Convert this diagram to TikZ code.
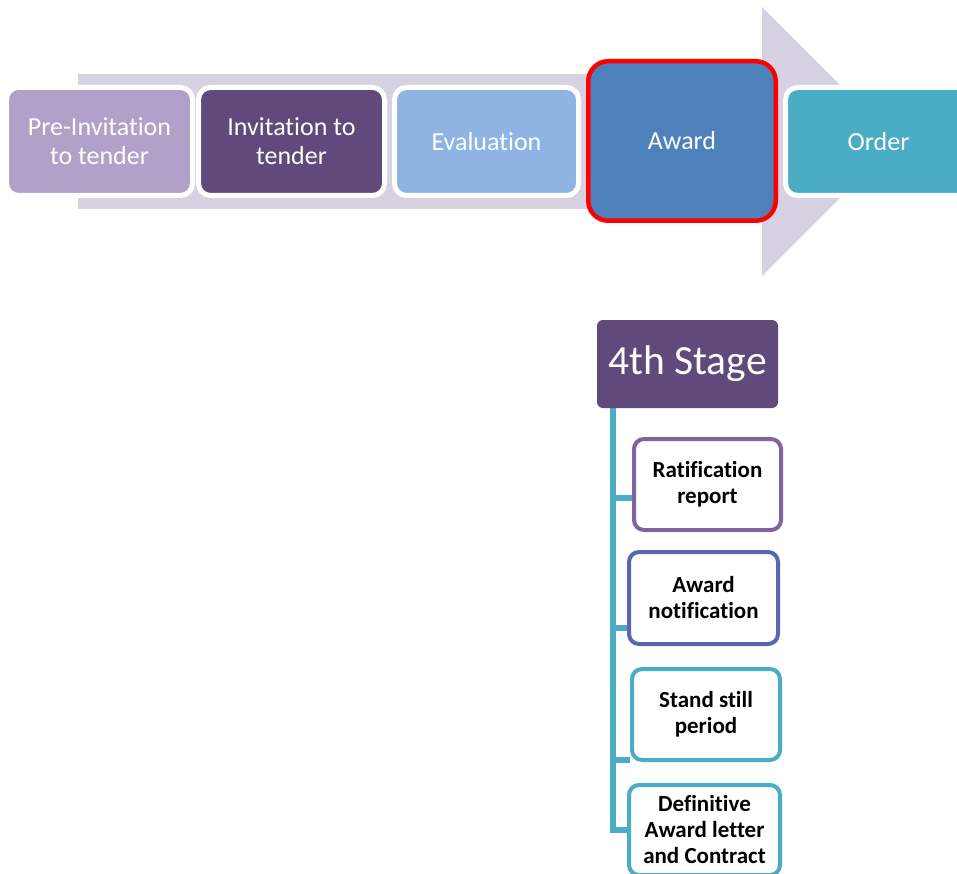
\documentclass[tikz,border=0pt]{standalone}
\usepackage{fontspec}
\setmainfont[Ligatures={NoCommon,NoContextual}]{Carlito}
\usetikzlibrary{backgrounds}
\definecolor{arrowbg}{HTML}{D6D2E1}
\definecolor{lilac}{HTML}{B1A0C7}
\definecolor{plum}{HTML}{604A7B}
\definecolor{skyblue}{HTML}{8EB4E3}
\definecolor{steel}{HTML}{4F81BD}
\definecolor{teal}{HTML}{4BACC6}
\definecolor{violet}{HTML}{8064A2}
\definecolor{indigo}{HTML}{5867B3}
\definecolor{hilite}{HTML}{FF0000}
\begin{document}
\begin{tikzpicture}[x=1pt,y=-1pt,
  phase/.style={rectangle, rounded corners=12pt, draw=white, line width=5pt,
    text=white, font=\fontsize{26}{29}\selectfont, align=center,
    minimum height=108pt, inner sep=0pt},
  stagebox/.style={rectangle, rounded corners=6pt, fill=plum, text=white,
    font=\fontsize{41.5}{44}\selectfont, minimum width=181pt, minimum height=88pt, inner sep=0pt},
  taskbox/.style={rectangle, rounded corners=10pt, fill=white, line width=4pt,
    font=\bfseries\fontsize{23}{26}\selectfont, align=center, inner sep=0pt},
  conn/.style={draw=teal, line width=5.5pt}
]
\useasboundingbox (0,0) rectangle (957,874);

% wide process arrow behind the phases
\fill[arrowbg] (78,74) -- (762,74) -- (762,7) -- (896.5,141.5) -- (762,276)
  -- (762,209) -- (78,209) -- cycle;

% phases
\node[phase, fill=lilac, minimum width=186pt] (pre) at (99.5,141.5) {Pre-Invitation\\to tender};
\node[phase, fill=plum, minimum width=186pt] (itt) at (291.5,141.5) {Invitation to\\tender};
\node[phase, fill=skyblue, minimum width=184pt] (eval) at (486.5,141.5) {Evaluation};
\node[phase, fill=steel, draw=hilite, line width=4.5pt, rounded corners=20pt,
  minimum width=187.5pt, minimum height=159.5pt] (award) at (682,141) {Award};
\node[phase, fill=teal, minimum width=186pt] (order) at (878.5,141.5) {Order};

% stage hierarchy
\node[stagebox] (stage) at (687.5,364) {4th Stage};
\node[taskbox, draw=violet, minimum width=147pt, minimum height=91pt] (t1) at (707.5,484.5) {Ratification\\report};
\node[taskbox, draw=indigo, minimum width=149pt, minimum height=92pt] (t2) at (703.5,598) {Award\\notification};
\node[taskbox, draw=teal, minimum width=148pt, minimum height=91pt] (t3) at (706,714.5) {Stand still\\period};
\node[taskbox, draw=teal, minimum width=151pt, minimum height=90pt] (t4) at (704.5,830) {Definitive\\Award letter\\and Contract};

\begin{scope}[on background layer]
  \draw[conn] ([xshift=16pt]stage.south west) |- ([yshift=-13.5pt]t1.west);
  \draw[conn] ([xshift=16pt]stage.south west) |- ([yshift=-30pt]t2.west);
  \draw[conn] ([xshift=16pt]stage.south west) |- ([yshift=-45.5pt]t3.west);
  \draw[conn] ([xshift=16pt]stage.south west) |- (t4.west);
\end{scope}
\end{tikzpicture}
\end{document}
